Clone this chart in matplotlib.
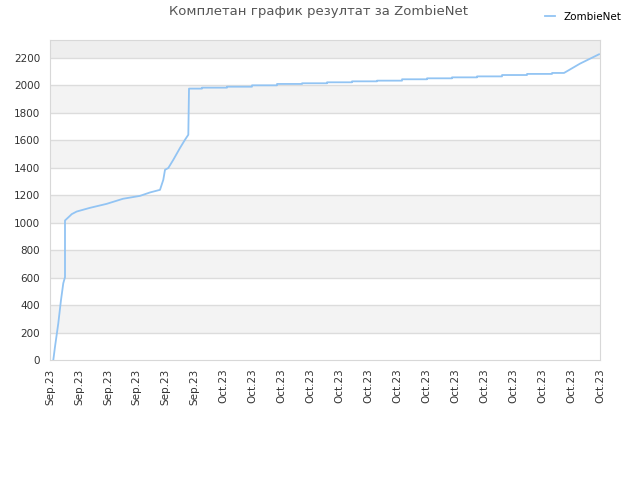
import matplotlib
matplotlib.use('Agg')
import matplotlib.pyplot as plt

# cumulative score, x in tick units (0..19)
score_x = [0.114, 0.173, 0.287, 0.380, 0.459, 0.518, 0.518, 0.691, 0.750, 0.922,
           1.382, 1.959, 2.522, 3.109, 3.455, 3.800, 3.914, 3.973, 4.087, 4.260,
           4.491, 4.664, 4.778, 4.802,
           5.251, 5.251, 6.115, 6.115, 6.978, 6.978, 7.842, 7.842, 8.706, 8.706,
           9.570, 9.570, 10.433, 10.433, 11.297, 11.297, 12.161, 12.161,
           13.024, 13.024, 13.888, 13.888, 14.752, 14.752, 15.616, 15.616,
           16.479, 16.479, 17.343, 17.343, 17.757, 18.31, 18.966]
score_y = [0, 97, 268, 437, 559, 603, 1016, 1050, 1062, 1081,
           1108, 1137, 1174, 1195, 1220, 1239, 1312, 1385, 1398, 1458,
           1544, 1604, 1640, 1976,
           1976, 1983, 1983, 1990, 1990, 2000, 2000, 2010, 2010, 2015,
           2015, 2022, 2022, 2029, 2029, 2034, 2034, 2044,
           2044, 2051, 2051, 2058, 2058, 2065, 2065, 2075,
           2075, 2083, 2083, 2090, 2090, 2158, 2226]

tick_labels = ['Sep.23'] * 6 + ['Oct.23'] * 14
y_ticks = list(range(0, 2201, 200))

fig = plt.figure(figsize=(6.4, 4.8), dpi=100)
ax = fig.add_axes([50 / 640, 120 / 480, 550 / 640, 320 / 480])

ymax = 2330
for lo in range(200, 2200, 400):
    ax.axhspan(lo, lo + 200, color='#f3f3f3', zorder=0, lw=0)
ax.axhspan(2200, ymax, color='#eeeeee', zorder=0, lw=0)
for t in y_ticks[1:]:
    ax.axhline(t, color='#dcdcdc', lw=1, zorder=1)

ax.plot(score_x, score_y, color='#92c4f3', lw=1.3, zorder=3, label='ZombieNet')

ax.set_xlim(0, len(tick_labels) - 1)
ax.set_ylim(0, ymax)
ax.set_xticks(range(len(tick_labels)))
ax.set_xticklabels(tick_labels, rotation=90)
ax.set_yticks(y_ticks)
ax.tick_params(length=0, labelsize=7.5, colors='#333333')
ax.tick_params(axis='x', pad=6)
ax.tick_params(axis='y', pad=7)
for s in ax.spines.values():
    s.set_color('#d8d8d8')

fig.text(0.497, 0.975, 'Комплетан график резултат за ZombieNet',
         ha='center', va='center', fontsize=9.5, color='#555555')
fig.legend(loc='upper right', bbox_to_anchor=(0.985, 0.995), frameon=False,
           fontsize=7.5, handlelength=0.9, handletextpad=0.8)

fig.savefig('out.png')
